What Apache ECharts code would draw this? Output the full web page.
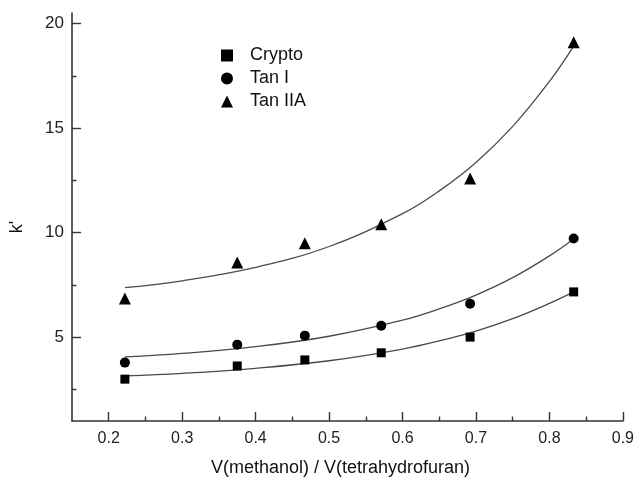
<!DOCTYPE html>
<html>
<head>
<meta charset="utf-8">
<script src="https://cdn.jsdelivr.net/npm/echarts@6/dist/echarts.min.js"></script>
<style>html,body{margin:0;padding:0;background:#fff}#c{width:637px;height:482px}</style>
</head>
<body>
<div id="c"></div>
<script>
// measured points
const ratioX = [0.222, 0.375, 0.467, 0.571, 0.692, 0.833];
const cryptoK = [3.0, 3.63, 3.92, 4.26, 5.01, 7.17];
const tanIK = [3.79, 4.65, 5.08, 5.55, 6.60, 9.72];
const tanIIAK = [6.85, 8.58, 9.49, 10.40, 12.59, 19.10];
// fitted curves
const fitX = [0.222, 0.3, 0.4, 0.5, 0.6, 0.65, 0.7, 0.75, 0.8, 0.833];
const cryptoFit = [3.16, 3.28, 3.52, 3.88, 4.44, 4.83, 5.30, 5.89, 6.62, 7.17];
const tanIFit = [4.06, 4.23, 4.55, 5.05, 5.82, 6.36, 7.02, 7.85, 8.89, 9.70];
const tanIIAFit = [7.37, 7.70, 8.34, 9.34, 10.91, 12.0, 13.36, 15.08, 17.23, 18.92];
// ticks
const xMajor = [0.2, 0.3, 0.4, 0.5, 0.6, 0.7, 0.8, 0.9];
const xMinor = [0.25, 0.35, 0.45, 0.55, 0.65, 0.75, 0.85];
const yMajor = [5, 10, 15, 20];
const yMinor = [2.5, 7.5, 12.5, 17.5];

const pair = (xs, ys) => xs.map((x, i) => [x, ys[i]]);
const FONT = 'Liberation Sans, Arial, sans-serif';
const axisCol = '#333';

const chart = echarts.init(document.getElementById('c'), null, {renderer: 'canvas'});
const baseX = {type: 'value', min: 0.15, max: 0.9, splitLine: {show: false}, position: 'bottom'};
const baseY = {type: 'value', min: 1, max: 20.5, splitLine: {show: false}, position: 'left'};
chart.setOption({
  animation: false,
  backgroundColor: '#fff',
  grid: {left: 71, right: 12, top: 13, bottom: 59},
  legend: {
    data: ['Crypto', 'Tan I', 'Tan IIA'],
    orient: 'vertical', left: 216, top: 39,
    itemWidth: 12, itemHeight: 12, itemGap: 0,
    textStyle: {fontFamily: FONT, fontSize: 18, color: '#111', lineHeight: 23, padding: [0, 0, 0, 12]}
  },
  xAxis: [
    Object.assign({}, baseX, {
      name: 'V(methanol) / V(tetrahydrofuran)', nameLocation: 'middle', nameGap: 38,
      nameTextStyle: {fontFamily: FONT, fontSize: 18, color: '#111', padding: [0, 14, 0, 0]},
      axisLine: {lineStyle: {color: axisCol, width: 1.6}},
      axisTick: {inside: true, length: 9, customValues: xMajor, lineStyle: {color: axisCol, width: 1.4}},
      axisLabel: {customValues: xMajor, margin: 10, fontFamily: FONT, fontSize: 16, color: '#222',
        formatter: v => v.toFixed(1)}
    }),
    Object.assign({}, baseX, {
      offset: 0,
      axisLine: {show: false}, axisLabel: {show: false},
      axisTick: {inside: true, length: 4.5, customValues: xMinor, lineStyle: {color: axisCol, width: 1.4}}
    })
  ],
  yAxis: [
    Object.assign({}, baseY, {
      name: "k'", nameLocation: 'middle', nameGap: 46, nameRotate: 90,
      nameTextStyle: {fontFamily: FONT, fontSize: 18, color: '#111', padding: [0, 20, 0, 0]},
      axisLine: {show: true, lineStyle: {color: axisCol, width: 1.6}},
      axisTick: {show: true, inside: true, length: 9, customValues: yMajor, lineStyle: {color: axisCol, width: 1.4}},
      axisLabel: {customValues: yMajor, margin: 8, fontFamily: FONT, fontSize: 17, color: '#222'}
    }),
    Object.assign({}, baseY, {
      offset: 0,
      axisLine: {show: false}, axisLabel: {show: false},
      axisTick: {show: true, inside: true, length: 4.5, customValues: yMinor, lineStyle: {color: axisCol, width: 1.4}}
    })
  ],
  series: [
    {name: 'Crypto fit', type: 'line', data: pair(fitX, cryptoFit), smooth: 0.4, showSymbol: false, symbol: 'none',
      lineStyle: {color: '#4a4a4a', width: 1.3}, z: 1},
    {name: 'Tan I fit', type: 'line', data: pair(fitX, tanIFit), smooth: 0.4, showSymbol: false, symbol: 'none',
      lineStyle: {color: '#4a4a4a', width: 1.3}, z: 1},
    {name: 'Tan IIA fit', type: 'line', data: pair(fitX, tanIIAFit), smooth: 0.4, showSymbol: false, symbol: 'none',
      lineStyle: {color: '#4a4a4a', width: 1.3}, z: 1},
    {name: 'Crypto', type: 'scatter', data: pair(ratioX, cryptoK), symbol: 'rect', symbolSize: 9,
      itemStyle: {color: '#000', opacity: 1}, z: 3},
    {name: 'Tan I', type: 'scatter', data: pair(ratioX, tanIK), symbol: 'circle', symbolSize: 10,
      itemStyle: {color: '#000', opacity: 1}, z: 3},
    {name: 'Tan IIA', type: 'scatter', data: pair(ratioX, tanIIAK), symbol: 'triangle', symbolSize: 12,
      itemStyle: {color: '#000', opacity: 1}, z: 3}
  ]
});
</script>
</body>
</html>
